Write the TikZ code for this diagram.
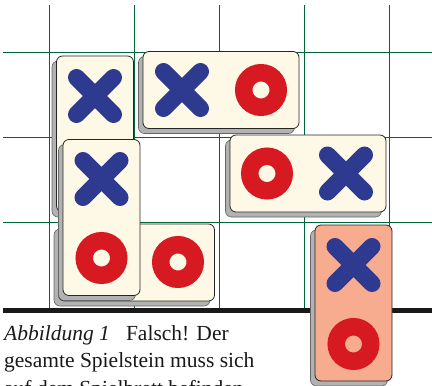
\documentclass[tikz,border=0pt]{standalone}
\usepackage{fontspec}
\setmainfont{Liberation Serif}
\usepackage{xcolor}
\usepackage{tikz}
\usetikzlibrary{shadows}
\definecolor{steinblau}{HTML}{2E3A8F}
\definecolor{steinrot}{HTML}{D71A21}
\definecolor{creme}{HTML}{FDF9E6}
\definecolor{lachs}{HTML}{F8AC8F}
\definecolor{brettgruen}{HTML}{00663A}
\tikzset{
  stein/.style={draw=black!85, line width=0.8pt, rounded corners=6pt,
    fill=creme, inner sep=0pt,
    copy shadow={shadow xshift=-4.5pt, shadow yshift=-5pt,
      fill=black!30, draw=black!60, line width=0.6pt}},
  quer/.style={stein, minimum width=156pt, minimum height=77pt},
  hoch/.style={stein, minimum width=77pt, minimum height=156pt},
  gitter/.style={brettgruen, line width=1pt},
  symx/.style={steinblau, line width=17pt, line cap=round},
  symo/.style={steinrot, line width=17.5pt},
  zeile/.style={anchor=base west, inner sep=0pt, text=black!90,
    font=\fontsize{21.5}{24}\selectfont},
}
\newcommand{\kreuz}[1]{\draw[symx] ([shift={(-18.5,-18.5)}]#1) -- ([shift={(18.5,18.5)}]#1)
  ([shift={(-18.5,18.5)}]#1) -- ([shift={(18.5,-18.5)}]#1);}
\newcommand{\ring}[1]{\draw[symo] (#1) circle[radius=17.25];}

\begin{document}
\begin{tikzpicture}[x=1pt, y=-1pt]
  \useasboundingbox (0,0) rectangle (432,386);
  \clip (0,0) rectangle (432,386);

  \foreach \x in {49,134,219,304,389} {
    \draw[gitter] (\x,5) -- (\x,308);
  }
  \foreach \y in {52,137,222} {
    \draw[gitter] (3,\y) -- (432,\y);
  }
  \draw[line width=5pt, black!90] (3,310.5) -- (432,310.5);

  \node[hoch] (stein1) at (95,134) {};
  \kreuz{95,96}
  \node[quer] (stein2) at (221,90) {};
  \kreuz{182,90}
  \ring{261,90}
  \node[quer] (stein4) at (136.5,262.5) {};
  \ring{178,262}
  \node[hoch] (stein3) at (101.5,217.5) {};
  \kreuz{101.5,179}
  \ring{101.5,258}
  \node[quer] (stein5) at (308,173.5) {};
  \ring{267,173.5}
  \kreuz{346,173.5}
  \node[hoch, fill=lachs] (stein6) at (353.5,303) {};
  \kreuz{353.5,265}
  \ring{353.5,344}

  \node[zeile] (zeile1) at (4,340) {\textit{Abbildung 1}\hspace{0.75em}Falsch! Der};
  \node[zeile] (zeile2) at (4,367) {gesamte Spielstein muss sich};
  \node[zeile] (zeile3) at (4,395) {auf dem Spielbrett befinden.};
\end{tikzpicture}
\end{document}
